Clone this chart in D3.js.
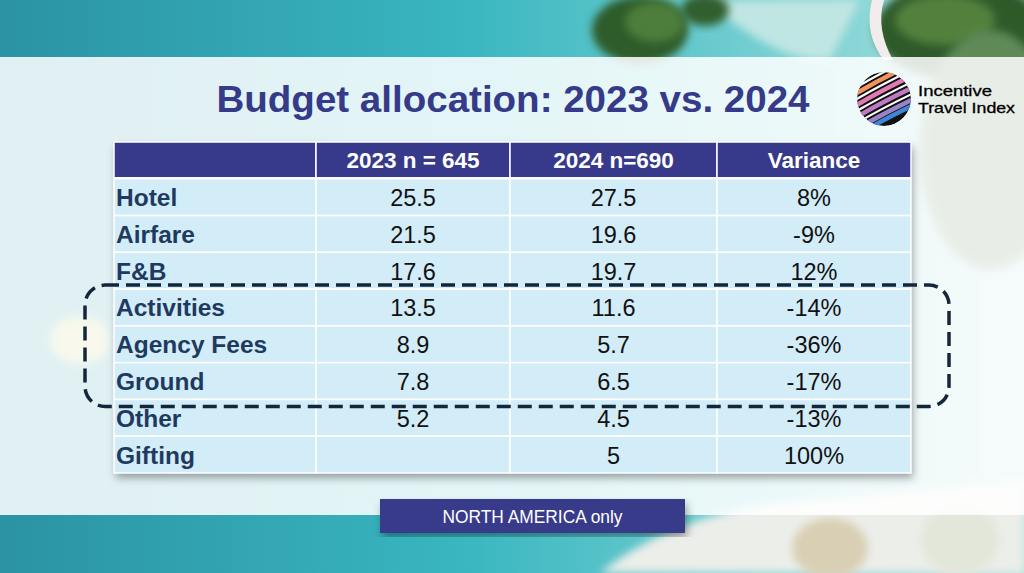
<!DOCTYPE html>
<html>
<head>
<meta charset="utf-8">
<script src="https://cdn.jsdelivr.net/npm/d3@7"></script>
<style>
  html, body { margin: 0; padding: 0; background: #fff; }
  svg { display: block; }
</style>
</head>
<body>
<div id="chart"></div>
<script>
// table data
const headers = ["", "2023 n = 645", "2024 n=690", "Variance"];
const categories = ["Hotel", "Airfare", "F&B", "Activities", "Agency Fees", "Ground", "Other", "Gifting"];
const values2023 = [25.5, 21.5, 17.6, 13.5, 8.9, 7.8, 5.2, null];
const values2024 = [27.5, 19.6, 19.7, 11.6, 5.7, 6.5, 4.5, 5];
const variance = ["8%", "-9%", "12%", "-14%", "-36%", "-17%", "-13%", "100%"];
const highlighted = ["Activities", "Agency Fees", "Ground"];

const title = "Budget allocation: 2023 vs. 2024";
const footnote = "NORTH AMERICA only";
const logoLines = ["Incentive", "Travel Index"];

const width = 1024;
const height = 573;

const svg = d3.select("#chart").append("svg")
    .attr("width", width)
    .attr("height", height);

const defs = svg.append("defs");

// ---- background "photo" ----
const water = defs.append("linearGradient").attr("id", "water").attr("x1", 0).attr("x2", 1);
water.append("stop").attr("offset", 0).attr("stop-color", "#2b93a3");
water.append("stop").attr("offset", 0.45).attr("stop-color", "#39b6c0");
water.append("stop").attr("offset", 0.8).attr("stop-color", "#7fd3d4");
water.append("stop").attr("offset", 1).attr("stop-color", "#b9e3df");

const blur = defs.append("filter").attr("id", "soft").attr("x", "-20%").attr("y", "-20%").attr("width", "140%").attr("height", "140%");
blur.append("feGaussianBlur").attr("stdDeviation", 4);

const shadow = defs.append("filter").attr("id", "shadow").attr("x", "-5%").attr("y", "-5%").attr("width", "110%").attr("height", "115%");
shadow.append("feDropShadow").attr("dx", 2).attr("dy", 5).attr("stdDeviation", 4)
    .attr("flood-color", "#000").attr("flood-opacity", 0.35);

const bg = svg.append("g");
bg.append("rect").attr("width", width).attr("height", height).attr("fill", "url(#water)");

// shallow sand areas
bg.append("path")
    .attr("d", "M700,0 C760,40 780,60 830,60 L860,0 Z")
    .attr("fill", "#bfe6e3").attr("filter", "url(#soft)");
bg.append("path")
    .attr("d", "M600,573 C640,540 700,515 760,505 L1024,480 L1024,573 Z")
    .attr("fill", "#eceeea").attr("filter", "url(#soft)");
bg.append("ellipse").attr("cx", 830).attr("cy", 548).attr("rx", 38).attr("ry", 30)
    .attr("fill", "#d9cfb4").attr("filter", "url(#soft)");
bg.append("ellipse").attr("cx", 960).attr("cy", 540).attr("rx", 40).attr("ry", 35)
    .attr("fill", "#e3e7da").attr("filter", "url(#soft)");

// islands / forest
const forest = [
  {cx: 640, cy: 30, rx: 48, ry: 34, c: "#2e5b2c"},
  {cx: 655, cy: 22, rx: 30, ry: 20, c: "#4e7e3a"},
  {cx: 705, cy: 10, rx: 24, ry: 16, c: "#335f2e"},
  {cx: 960, cy: 30, rx: 85, ry: 50, c: "#2f5a2b"},
  {cx: 945, cy: 20, rx: 50, ry: 25, c: "#52813c"},
  {cx: 990, cy: 150, rx: 70, ry: 120, c: "#5f8a58"}
];
bg.selectAll("ellipse.tree").data(forest).join("ellipse")
    .attr("class", "tree")
    .attr("cx", d => d.cx).attr("cy", d => d.cy)
    .attr("rx", d => d.rx).attr("ry", d => d.ry)
    .attr("fill", d => d.c).attr("filter", "url(#soft)");
bg.append("path")
    .attr("d", "M872,0 C866,25 872,45 884,60 L893,60 C882,40 878,20 884,0 Z")
    .attr("fill", "#f3ecec");
bg.append("ellipse").attr("cx", 80).attr("cy", 340).attr("rx", 30).attr("ry", 24)
    .attr("fill", "#c9cf7a").attr("filter", "url(#soft)");

// translucent panel
svg.append("rect")
    .attr("x", 0).attr("y", 57)
    .attr("width", width).attr("height", 458)
    .attr("fill", "#ffffff").attr("fill-opacity", 0.86);

// ---- title ----
svg.append("text")
    .attr("x", 513).attr("y", 112)
    .attr("text-anchor", "middle")
    .attr("font-family", "Liberation Sans, Arial, sans-serif")
    .attr("font-weight", "bold")
    .attr("font-size", 36)
    .attr("textLength", 593)
    .attr("lengthAdjust", "spacingAndGlyphs")
    .attr("fill", "#353a89")
    .text(title);

// ---- logo ----
const logo = svg.append("g").attr("transform", "translate(884,99)");
defs.append("clipPath").attr("id", "logoClip")
    .append("circle").attr("r", 27);
const globe = logo.append("g").attr("clip-path", "url(#logoClip)");
globe.append("circle").attr("r", 27).attr("fill", "#111");
const bands = [
  {off: -22, c: "#fff"}, {off: -16, c: "#f2935e"}, {off: -10, c: "#fff"},
  {off: -4, c: "#e27ab4"}, {off: 2, c: "#fff"}, {off: 8, c: "#c07ac2"},
  {off: 14, c: "#fff"}, {off: 20, c: "#9a82c9"}, {off: 26, c: "#3d86d6"}
];
globe.selectAll("path.band").data(bands).join("path")
    .attr("class", "band")
    .attr("d", d => `M${-34},${d.off + 14} Q${-4},${d.off - 4} ${34},${d.off - 22}`)
    .attr("fill", "none")
    .attr("stroke", d => d.c)
    .attr("stroke-width", d => d.c === "#fff" ? 2.2 : 4.5)
    .attr("stroke-linecap", "round");
logo.selectAll("text").data(logoLines).join("text")
    .attr("x", 34)
    .attr("y", (d, i) => -3 + i * 16.5)
    .attr("font-family", "Liberation Sans, Arial, sans-serif")
    .attr("font-size", 14.5)
    .attr("textLength", (d, i) => i === 0 ? 74 : 97)
    .attr("lengthAdjust", "spacingAndGlyphs")
    .attr("fill", "#000")
    .attr("stroke", "#000").attr("stroke-width", 0.3)
    .text(d => d);

// ---- table ----
const tableLeft = 114, tableRight = 911, tableTop = 142, tableBottom = 473;
const colWidths = [202, 194, 207, 194];
const colEdges = [0, ...d3.cumsum(colWidths)];
const xEdge = d3.scaleLinear().domain([0, d3.sum(colWidths)]).range([tableLeft, tableRight]);

const y = d3.scaleBand()
    .domain(["header", ...categories])
    .range([tableTop, tableBottom]);

const rows = categories.map((c, i) => [
  c,
  values2023[i] == null ? "" : String(values2023[i]),
  values2024[i] == null ? "" : String(values2024[i]),
  variance[i]
]);

const table = svg.append("g");
table.append("rect")
    .attr("x", tableLeft).attr("y", tableTop)
    .attr("width", tableRight - tableLeft).attr("height", tableBottom - tableTop)
    .attr("fill", "#d2ecf8")
    .attr("filter", "url(#shadow)");

// header cells
table.selectAll("rect.head").data(headers).join("rect")
    .attr("class", "head")
    .attr("x", (d, i) => xEdge(colEdges[i]))
    .attr("y", y("header"))
    .attr("width", (d, i) => xEdge(colEdges[i + 1]) - xEdge(colEdges[i]))
    .attr("height", y.bandwidth() - 1)
    .attr("fill", "#373a8a")
    .attr("stroke", "#fff").attr("stroke-width", 1.5);

table.selectAll("text.head").data(headers).join("text")
    .attr("class", "head")
    .attr("x", (d, i) => (xEdge(colEdges[i]) + xEdge(colEdges[i + 1])) / 2)
    .attr("y", y("header") + y.bandwidth() / 2 + 8)
    .attr("text-anchor", "middle")
    .attr("font-family", "Liberation Sans, Arial, sans-serif")
    .attr("font-weight", "bold")
    .attr("font-size", 22.5)
    .attr("fill", "#fff")
    .text(d => d);

// body cells
const rowG = table.selectAll("g.row").data(rows).join("g")
    .attr("class", "row")
    .attr("transform", d => `translate(0,${y(d[0])})`);

rowG.selectAll("rect").data(d => d).join("rect")
    .attr("x", (d, i) => xEdge(colEdges[i]))
    .attr("y", 0)
    .attr("width", (d, i) => xEdge(colEdges[i + 1]) - xEdge(colEdges[i]))
    .attr("height", y.bandwidth())
    .attr("fill", "#d2ecf8")
    .attr("stroke", "#fff").attr("stroke-width", 1.5);

rowG.selectAll("text").data(d => d).join("text")
    .attr("x", (d, i) => i === 0 ? xEdge(colEdges[0]) + 2 : (xEdge(colEdges[i]) + xEdge(colEdges[i + 1])) / 2)
    .attr("y", y.bandwidth() / 2 + 9)
    .attr("text-anchor", (d, i) => i === 0 ? "start" : "middle")
    .attr("font-family", "Liberation Sans, Arial, sans-serif")
    .attr("font-weight", (d, i) => i === 0 ? "bold" : "normal")
    .attr("font-size", (d, i) => i === 0 ? 24.5 : 23.5)
    .attr("fill", (d, i) => i === 0 ? "#1f3a5f" : "#111")
    .text(d => d);

// dashed highlight round the three falling rows
const hlTop = y(highlighted[0]) - 4;
const hlBottom = y(highlighted[highlighted.length - 1]) + y.bandwidth() + 7;
svg.append("rect")
    .attr("x", 85).attr("y", hlTop)
    .attr("width", 864).attr("height", hlBottom - hlTop)
    .attr("rx", 20).attr("ry", 20)
    .attr("fill", "none")
    .attr("stroke", "#13263a")
    .attr("stroke-width", 3.5)
    .attr("stroke-dasharray", "14 7");

// ---- footnote box ----
const note = svg.append("g").attr("transform", "translate(380,499)");
note.append("rect")
    .attr("width", 305).attr("height", 34)
    .attr("fill", "#383a8a")
    .attr("filter", "url(#shadow)");
note.append("text")
    .attr("x", 152.5).attr("y", 24)
    .attr("text-anchor", "middle")
    .attr("font-family", "Liberation Sans, Arial, sans-serif")
    .attr("font-size", 18.5)
    .attr("textLength", 180)
    .attr("lengthAdjust", "spacingAndGlyphs")
    .attr("fill", "#fff")
    .text(footnote);
</script>
</body>
</html>
